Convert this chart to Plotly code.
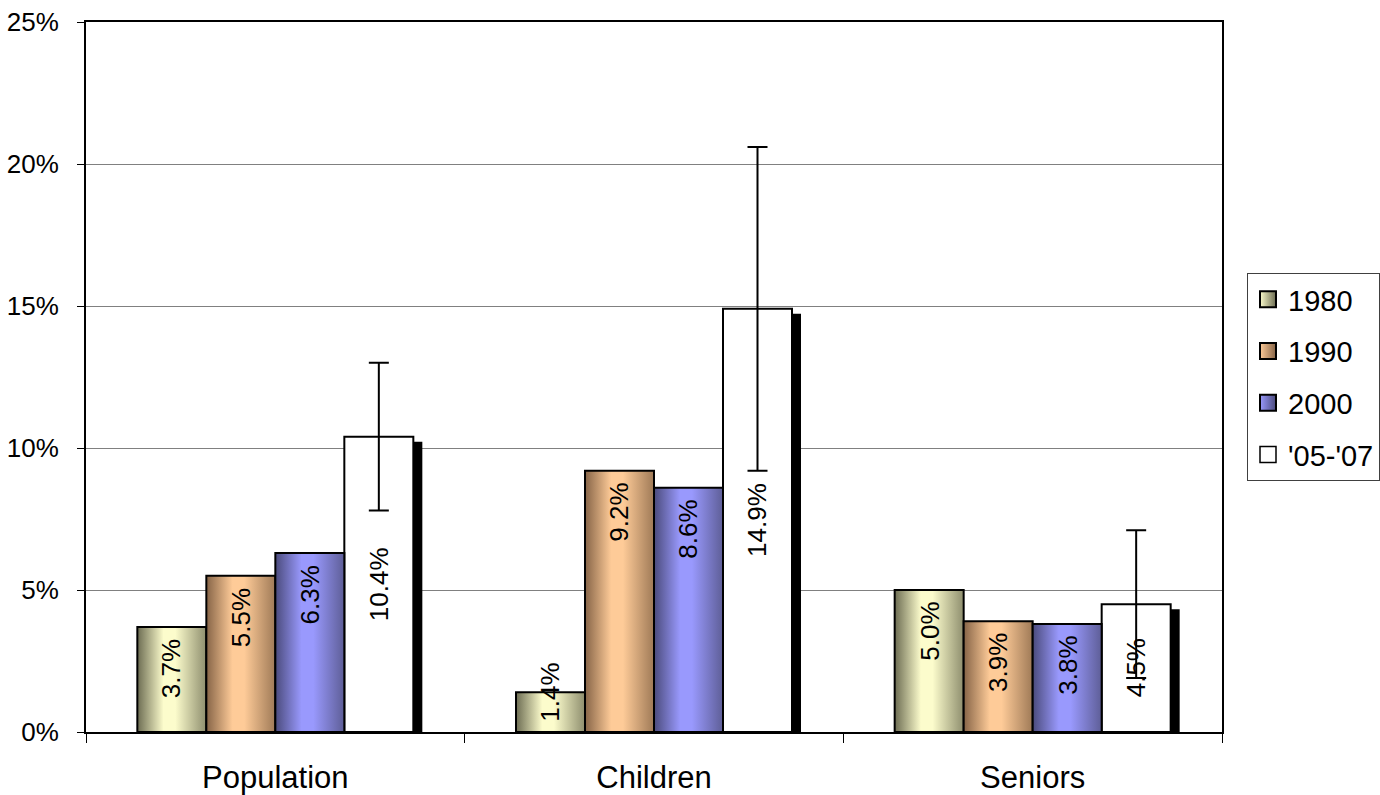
import plotly.graph_objects as go

# ---------------- data ----------------
categories = ["Population", "Children", "Seniors"]
series_names = ["1980", "1990", "2000", "'05-'07"]
values_1980 = [3.7, 1.4, 5.0]
values_1990 = [5.5, 9.2, 3.9]
values_2000 = [6.3, 8.6, 3.8]
values_0507 = [10.4, 14.9, 4.5]
errors_0507 = [2.6, 5.7, 2.6]
y_tick_values = [0, 5, 10, 15, 20, 25]
y_tick_labels = ["0%", "5%", "10%", "15%", "20%", "25%"]

# ---------------- styling ----------------
FONT = "Liberation Sans, Arial, sans-serif"
W, H = 1380, 795
M_L, M_R, M_T, M_B = 86, 158, 22, 63
PLOT_W = W - M_L - M_R
PLOT_H = H - M_T - M_B
Y_MAX = 25
PX_PER_X = PLOT_W / len(categories)
PX_PER_Y = PLOT_H / Y_MAX

BAR_W = 69 / PX_PER_X
SHADOW_DX = 9 / PX_PER_X
SHADOW_DY = 5 / PX_PER_Y

gradient_colors = {
    "1980": ("#FCFCCC", "#6C6C52", "#8E8E6E"),
    "1990": ("#FECB98", "#866447", "#9F7A57"),
    "2000": ("#9999FD", "#4B4B7C", "#5E5E97"),
}

series_values = [values_1980, values_1990, values_2000, values_0507]

fig = go.Figure()


def centre(cat_idx, ser_idx):
    return cat_idx + (ser_idx - (len(series_names) - 1) / 2) * BAR_W


# gradient bars (filled polygons so they can carry a horizontal gradient)
for s_idx, name in enumerate(series_names[:3]):
    light, dark_l, dark_r = gradient_colors[name]
    for c_idx, v in enumerate(series_values[s_idx]):
        xc = centre(c_idx, s_idx)
        x0, x1 = xc - BAR_W / 2, xc + BAR_W / 2
        fig.add_trace(go.Scatter(
            x=[x0, x0, x1, x1, x0], y=[0, v, v, 0, 0],
            mode="lines", fill="toself",
            fillgradient=dict(type="horizontal",
                              colorscale=[[0, dark_l], [0.38, light], [0.55, light], [1, dark_r]]),
            line=dict(color="black", width=2),
            hoverinfo="skip", showlegend=False,
        ))

# shadow of the '05-'07 bars
fig.add_trace(go.Bar(
    x=[centre(i, 3) + SHADOW_DX for i in range(len(categories))],
    y=[v - SHADOW_DY for v in values_0507],
    width=BAR_W, marker=dict(color="black", line=dict(width=0)),
    showlegend=False, hoverinfo="skip", opacity=1,
))

# '05-'07 bars with error bars
fig.add_trace(go.Bar(
    x=[centre(i, 3) for i in range(len(categories))],
    y=values_0507, width=BAR_W,
    marker=dict(color="white", line=dict(color="black", width=2)),
    error_y=dict(type="data", array=errors_0507, visible=True,
                 color="black", thickness=2, width=10),
    showlegend=False, opacity=1, name=series_names[3],
))

# legend entries
for name in series_names:
    if name in gradient_colors:
        light, dark_l, _ = gradient_colors[name]
        marker = dict(symbol="square", size=16, color=light,
                      gradient=dict(type="horizontal", color=dark_l),
                      line=dict(color="black", width=2))
    else:
        marker = dict(symbol="square", size=16, color="white",
                      line=dict(color="black", width=1.5))
    fig.add_trace(go.Scatter(x=[None], y=[None], mode="markers", name=name,
                             legendgroup=name, marker=marker))

# value labels
LABEL_SIZE = 26
annotations = []
for s_idx, name in enumerate(series_names):
    for c_idx, v in enumerate(series_values[s_idx]):
        text = f"{v:.1f}%"
        xc = centre(c_idx, s_idx)
        label_px = len(text) * 0.6 * LABEL_SIZE
        if s_idx == 3:
            annotations.append(dict(x=xc, y=v / 2, text=text, textangle=-90,
                                    showarrow=False, yanchor="middle", xanchor="center"))
        elif v * PX_PER_Y < label_px + 22:
            annotations.append(dict(x=xc, y=v, text=text, textangle=-90,
                                    showarrow=False, yanchor="middle", xanchor="center"))
        else:
            annotations.append(dict(x=xc, y=v, text=text, textangle=-90,
                                    showarrow=False, yanchor="top", xanchor="center",
                                    yshift=-10))
for a in annotations:
    a["font"] = dict(family=FONT, size=LABEL_SIZE, color="black")
    a["xref"] = "x"
    a["yref"] = "y"

boundaries = [i - 0.5 for i in range(len(categories) + 1)]

fig.update_layout(
    template="none",
    width=W, height=H,
    margin=dict(l=M_L, r=M_R, t=M_T, b=M_B, pad=0, autoexpand=False),
    paper_bgcolor="white", plot_bgcolor="white",
    barmode="overlay",
    font=dict(family=FONT, color="black"),
    annotations=annotations,
    showlegend=True,
    legend=dict(
        x=(1247 - M_L) / PLOT_W, xanchor="left",
        y=(H - M_B - 273) / PLOT_H, yanchor="top",
        bgcolor="white", bordercolor="#404040", borderwidth=1,
        font=dict(family=FONT, size=29, color="black"),
        tracegroupgap=11, traceorder="grouped",
    ),
    xaxis=dict(
        automargin=False,
        range=[-0.5, len(categories) - 0.5],
        tickmode="array", tickvals=list(range(len(categories))), ticktext=categories,
        ticks="outside", ticklen=9, tickcolor="rgba(0,0,0,0)",
        minor=dict(tickmode="array", tickvals=boundaries, ticks="outside",
                   ticklen=9, tickcolor="black", tickwidth=1, showgrid=False),
        showline=True, linecolor="black", linewidth=2, mirror=True,
        showgrid=False, zeroline=False,
        tickfont=dict(family=FONT, size=31, color="black"),
        ticklabelstandoff=8,
    ),
    yaxis=dict(
        automargin=False,
        range=[0, Y_MAX],
        tickmode="array", tickvals=y_tick_values, ticktext=y_tick_labels,
        ticks="outside", ticklen=7, tickcolor="black", tickwidth=1,
        showline=True, linecolor="black", linewidth=2, mirror=True,
        showgrid=True, gridcolor="#808080", gridwidth=1, zeroline=False,
        tickfont=dict(family=FONT, size=26, color="black"),
        ticklabelstandoff=13,
    ),
)

fig.write_html(
    "out.html",
    config={"displayModeBar": False},
    post_script="document.body.style.margin='0';document.body.style.overflow='hidden';",
)
